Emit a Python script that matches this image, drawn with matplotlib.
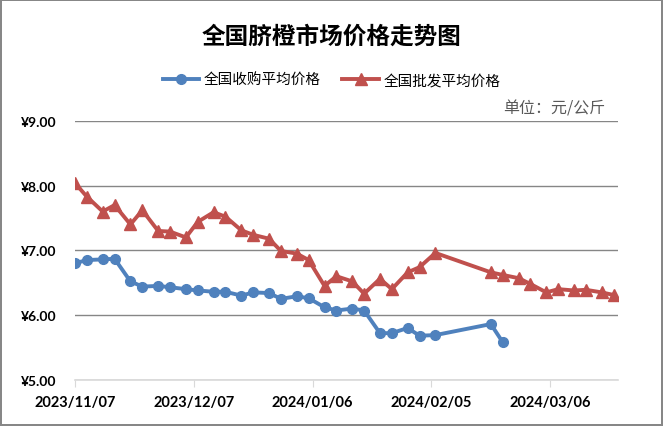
from datetime import datetime, timedelta

import matplotlib
matplotlib.use('Agg')
from matplotlib import pyplot as plt
import matplotlib.dates as mdates
from matplotlib.ticker import FuncFormatter

plt.rcParams['font.family'] = ['Noto Sans CJK SC', 'DejaVu Sans']

# twice-weekly quotes (Tue / Fri)
date_labels = [
    '2023/11/07', '2023/11/10', '2023/11/14', '2023/11/17', '2023/11/21',
    '2023/11/24', '2023/11/28', '2023/12/01', '2023/12/05', '2023/12/08',
    '2023/12/12', '2023/12/15', '2023/12/19', '2023/12/22', '2023/12/26',
    '2023/12/29', '2024/01/02', '2024/01/05', '2024/01/09', '2024/01/12',
    '2024/01/16', '2024/01/19', '2024/01/23', '2024/01/26', '2024/01/30',
    '2024/02/02', '2024/02/06', '2024/02/20', '2024/02/23', '2024/02/27',
    '2024/03/01', '2024/03/05', '2024/03/08', '2024/03/12', '2024/03/15',
    '2024/03/19', '2024/03/22',
]

wholesale_price = [
    8.04, 7.83, 7.60, 7.70, 7.40, 7.62, 7.30, 7.29, 7.20, 7.44,
    7.59, 7.52, 7.31, 7.24, 7.18, 6.99, 6.95, 6.85, 6.45, 6.60,
    6.52, 6.33, 6.56, 6.40, 6.66, 6.74, 6.96, 6.66, 6.62, 6.57,
    6.48, 6.35, 6.40, 6.38, 6.39, 6.35, 6.31,
]

# purchase price stops after 2024/02/23
purchase_price = [
    6.80, 6.85, 6.86, 6.87, 6.52, 6.44, 6.45, 6.43, 6.40, 6.38,
    6.36, 6.36, 6.30, 6.35, 6.34, 6.25, 6.29, 6.26, 6.12, 6.07,
    6.10, 6.07, 5.72, 5.72, 5.80, 5.68, 5.69, 5.86, 5.58,
]

series_names = ['全国收购平均价格', '全国批发平均价格']
title_text = '全国脐橙市场价格走势图'
unit_text = '单位：元/公斤'
y_ticks = [5, 6, 7, 8, 9]

BLUE = '#4F81BD'
RED = '#C0504D'

dates = [datetime.strptime(d, '%Y/%m/%d') for d in date_labels]
start = dates[0]

fig = plt.figure(figsize=(6.63, 4.27), dpi=100, linewidth=1.5, edgecolor='#878787')
ax = fig.add_axes([0.1131, 0.1084, 0.8184, 0.6059])

ax.plot(dates[:len(purchase_price)], purchase_price, color=BLUE, lw=2.8,
        marker='o', markersize=7, label=series_names[0], zorder=3)
ax.plot(dates, wholesale_price, color=RED, lw=2.8,
        marker='^', markersize=8, label=series_names[1], zorder=3)

ax.set_ylim(5, 9)
ax.set_yticks(y_ticks)
ax.yaxis.set_major_formatter(FuncFormatter(lambda v, p: f'¥{v:.2f}'))
ax.grid(axis='y', color='#868686', lw=1.0, zorder=0)

ax.set_xlim(start, start + timedelta(days=137))
ax.set_xticks([start + timedelta(days=30 * k) for k in range(5)])
ax.xaxis.set_major_formatter(mdates.DateFormatter('%Y/%m/%d'))

for side in ['top', 'right', 'left']:
    ax.spines[side].set_visible(False)
ax.spines['bottom'].set_color('#d9d9d9')
ax.spines['bottom'].set_linewidth(1.2)
ax.tick_params(axis='x', direction='out', length=5, color='#d9d9d9', pad=6)
ax.tick_params(axis='y', length=0, pad=13)

for lab in ax.get_xticklabels():
    lab.set_family(['Lato', 'DejaVu Sans'])
    lab.set_fontweight('bold')
    lab.set_fontsize(10.5)
for lab in ax.get_yticklabels():
    lab.set_family(['Lato', 'DejaVu Sans'])
    lab.set_fontweight('bold')
    lab.set_fontsize(10)

fig.text(0.5, 0.913, title_text, ha='center', va='center',
         fontsize=17, fontweight='bold')
fig.text(0.836, 0.745, unit_text, ha='center', va='center',
         fontsize=11.5, color='#595959')

fig.legend(loc='center', bbox_to_anchor=(0.5, 0.81), ncol=2, frameon=False,
           fontsize=10.5, handlelength=2.5, handletextpad=0.3,
           columnspacing=1.5, numpoints=1)

plt.savefig('out.png', dpi=100)
plt.close()
